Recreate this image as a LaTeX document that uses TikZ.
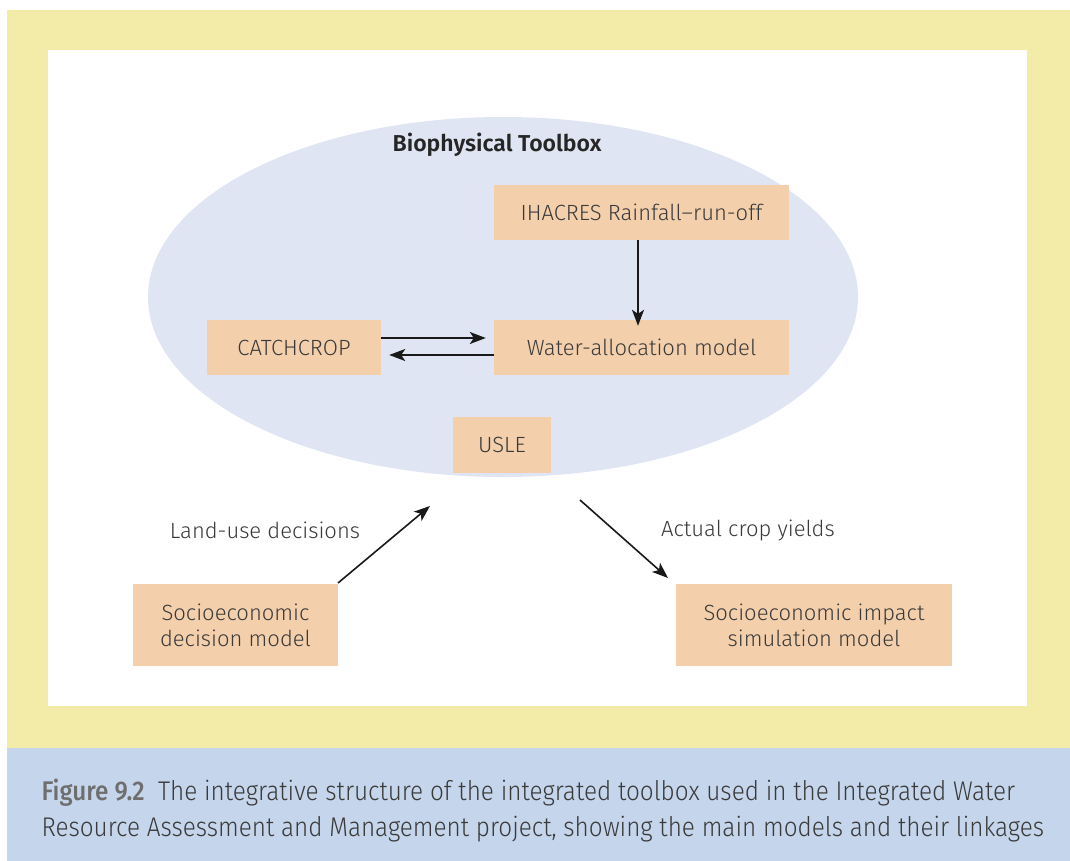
\documentclass[tikz,border=0pt]{standalone}
\usepackage{fontspec}
\setmainfont{Fira Sans}[UprightFont=* Light, BoldFont=* SemiBold]
\newfontfamily\capfont[FakeStretch=0.9, UprightFont=* Light, BoldFont=* Medium]{Fira Sans}
\usetikzlibrary{arrows.meta}
\definecolor{frameY}{HTML}{F3ECA8}
\definecolor{ellB}{HTML}{DFE5F2}
\definecolor{boxO}{HTML}{F3CFAC}
\definecolor{capB}{HTML}{C5D5EB}
\definecolor{txt}{HTML}{3A3A3A}
\definecolor{figG}{HTML}{6E6E6E}
\tikzset{
  mbox/.style={fill=boxO, draw=none, inner sep=0pt, text=txt, font=\fontsize{22}{26}\selectfont, align=center},
  lnk/.style={draw=black!90, line width=1.6pt, -{Stealth[length=16pt,width=12pt,inset=4pt]}},
  lbl/.style={text=txt, font=\fontsize{22}{26}\selectfont}
}
\begin{document}
\begin{tikzpicture}[x=1pt,y=-1pt]
\useasboundingbox (0,0) rectangle (1070,861);
\fill[white] (0,0) rectangle (1070,861);
\fill[frameY] (7,10) rectangle (1070,748);
\fill[white] (48,50) rectangle (1027,706);
\fill[capB] (7,748) rectangle (1070,861);
\fill[ellB] (503,297) ellipse [x radius=355, y radius=180];
\node[font=\fontsize{23}{26}\selectfont\bfseries, text=black!85] (title) at (497,145) {Biophysical Toolbox};
\node[mbox, minimum width=295pt, minimum height=55pt] (ih) at (641.5,212.5) {IHACRES Rainfall--run-off};
\node[mbox, minimum width=295pt, minimum height=55pt] (wa) at (641.5,347.5) {Water-allocation model};
\node[mbox, minimum width=174pt, minimum height=55pt] (cc) at (294,347.5) {CATCHCROP};
\node[mbox, minimum width=98pt, minimum height=56pt] (us) at (502,445) {USLE};
\node[mbox, minimum width=205pt, minimum height=82pt] (sd) at (235.5,625) {Socioeconomic\\decision model};
\node[mbox, minimum width=276pt, minimum height=82pt] (si) at (814,625) {Socioeconomic impact\\simulation model};
\coordinate (ellIn) at (430,506);
\coordinate (ellOut) at (580,500);
\draw[lnk] (ih.south -| 638,0) -- ([yshift=-6pt]wa.north -| 638,0);
\draw[lnk] (cc.east |- 0,338) -- ([xshift=-8pt]wa.west |- 0,338);
\draw[lnk] (wa.west |- 0,355) -- ([xshift=8pt]cc.east |- 0,355);
\draw[lnk] (338,583) -- (ellIn);
\draw[lnk] (ellOut) -- (668,578);
\node[lbl] (l1) at (265,530) {Land-use decisions};
\node[lbl] (l2) at (748,530) {Actual crop yields};
\node[anchor=west, text=txt, font=\capfont\fontsize{27}{30}\selectfont] (cap1) at (38,793) {{\color{figG}\bfseries Figure 9.2}\hspace{0.5em}The integrative structure of the integrated toolbox used in the Integrated Water};
\node[anchor=west, text=txt, font=\capfont\fontsize{27}{30}\selectfont] (cap2) at (38,829) {Resource Assessment and Management project, showing the main models and their linkages};
\end{tikzpicture}
\end{document}
